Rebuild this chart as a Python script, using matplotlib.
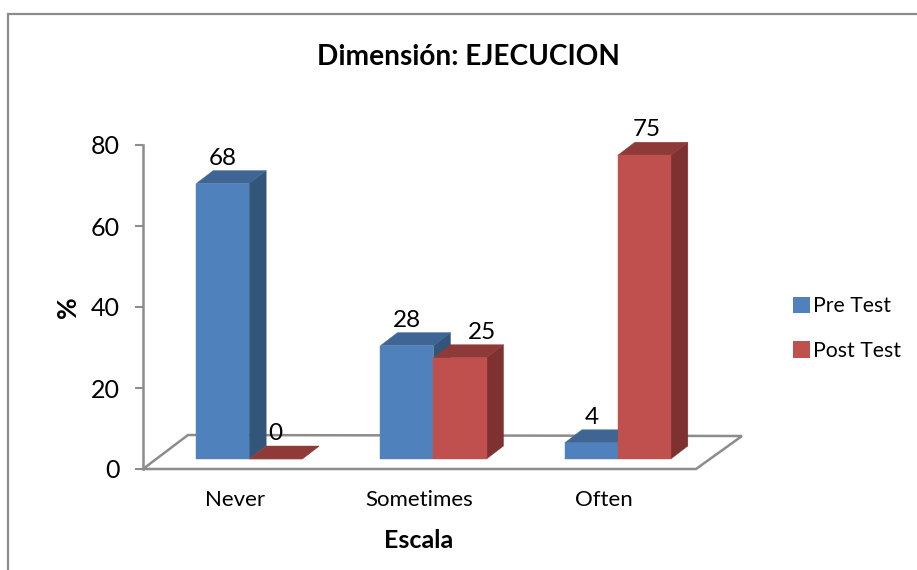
"""Clustered pseudo-3D bar chart for the EJECUCION dimension."""
import matplotlib
matplotlib.use("Agg")
import matplotlib.pyplot as plt
from matplotlib.lines import Line2D
from matplotlib.patches import Patch, Polygon

categories = ["Never", "Sometimes", "Often"]
pre_test = [68, 28, 4]
post_test = [0, 25, 75]
y_ticks = [0, 20, 40, 60, 80]
# per-label horizontal nudge in pixels, "25" sits right of its bar
pre_nudge = [0, 0, 0]
post_nudge = [0, 22, 2]

W, H = 917, 570
AX_L, AX_R, AX_B, AX_T = 143, 696, 469, 145
GRAY = "#8c8c8c"

plt.rcParams["font.family"] = ["Lato", "DejaVu Sans"]

fig = plt.figure(figsize=(W / 100, H / 100), dpi=100)
ax = fig.add_axes([AX_L / W, 1 - AX_B / H, (AX_R - AX_L) / W, (AX_B - AX_T) / H])
ax.set_xlim(0, len(categories))
ax.set_ylim(0, 80)

px_x = len(categories) / (AX_R - AX_L)
px_y = 80 / (AX_B - AX_T)


def bar3d(left, value, face, top, side):
    """Front face plus top and side faces, shifted back onto the floor."""
    w = 53 * px_x
    dx, dy = 17 * px_x, 13 * px_y
    y0 = 10 * px_y
    x0 = left + 14 * px_x
    y1 = y0 + value
    ax.add_patch(Polygon([(x0 + w, y0), (x0 + w + dx, y0 + dy), (x0 + w + dx, y1 + dy), (x0 + w, y1)],
                         facecolor=side, edgecolor=side, linewidth=0.3, clip_on=False, zorder=3))
    ax.add_patch(Polygon([(x0, y1), (x0 + dx, y1 + dy), (x0 + w + dx, y1 + dy), (x0 + w, y1)],
                         facecolor=top, edgecolor=top, linewidth=0.3, clip_on=False, zorder=3))
    ax.add_patch(Polygon([(x0, y0), (x0 + w, y0), (x0 + w, y1), (x0, y1)],
                         facecolor=face, edgecolor=face, linewidth=0.3, clip_on=False, zorder=3))
    return x0 + w / 2, y1 + dy


# floor of the plot
ax.add_patch(Polygon([(0, 0), (45 * px_x, 34 * px_y), (len(categories) + 46 * px_x, 33 * px_y),
                      (len(categories), 0)],
                     closed=True, facecolor="white", edgecolor=GRAY, linewidth=1.8,
                     clip_on=False, zorder=1))

for i in range(len(categories)):
    cx = i + 0.5
    w = 53 * px_x
    lx, ly = bar3d(cx - w, pre_test[i], "#4f81bd", "#3e6594", "#335579")
    ax.text(lx + pre_nudge[i] * px_x, ly + 2 * px_y, str(pre_test[i]), ha="center", va="bottom",
            fontsize=17.5, color="black", zorder=5)
    lx, ly = bar3d(cx, post_test[i], "#c0504d", "#8e3a38", "#7e3130")
    ax.text(lx + post_nudge[i] * px_x, ly + 2 * px_y, str(post_test[i]), ha="center", va="bottom",
            fontsize=17.5, color="black", zorder=5)

for name in ("top", "right", "bottom"):
    ax.spines[name].set_visible(False)
ax.spines["left"].set_color(GRAY)
ax.spines["left"].set_linewidth(1.8)
ax.patch.set_alpha(0)

ax.set_yticks(y_ticks)
ax.tick_params(axis="y", length=6, width=1.5, color=GRAY, labelsize=18, pad=11)
ax.set_xticks([i + 0.5 for i in range(len(categories))])
ax.set_xticklabels(categories)
ax.tick_params(axis="x", length=0, labelsize=16, pad=15)

fig.text(468 / W, 1 - 57 / H, "Dimensión: EJECUCION", ha="center", va="center",
         fontsize=20.2, fontweight="bold")
fig.text(68 / W, 1 - 307 / H, "%", ha="center", va="center", rotation=90,
         fontsize=19, fontweight="bold")
fig.text(419 / W, 1 - 540 / H, "Escala", ha="center", va="center",
         fontsize=18, fontweight="bold")

handles = [Patch(facecolor="#4f81bd", label="Pre Test"), Patch(facecolor="#c0504d", label="Post Test")]
fig.legend(handles=handles, loc="center left", bbox_to_anchor=(793 / W, 1 - 328.5 / H),
           frameon=False, fontsize=15.3, handlelength=0.8, handleheight=0.8,
           handletextpad=0.12, labelspacing=1.17, borderpad=0, borderaxespad=0)

# outer chart border, open at the bottom
fig.add_artist(Line2D([8 / W, 8 / W, 1], [0, 1 - 14 / H, 1 - 14 / H], color=GRAY, linewidth=1.6,
                      solid_joinstyle="miter"))

fig.savefig("out.png", dpi=100)
plt.close(fig)
